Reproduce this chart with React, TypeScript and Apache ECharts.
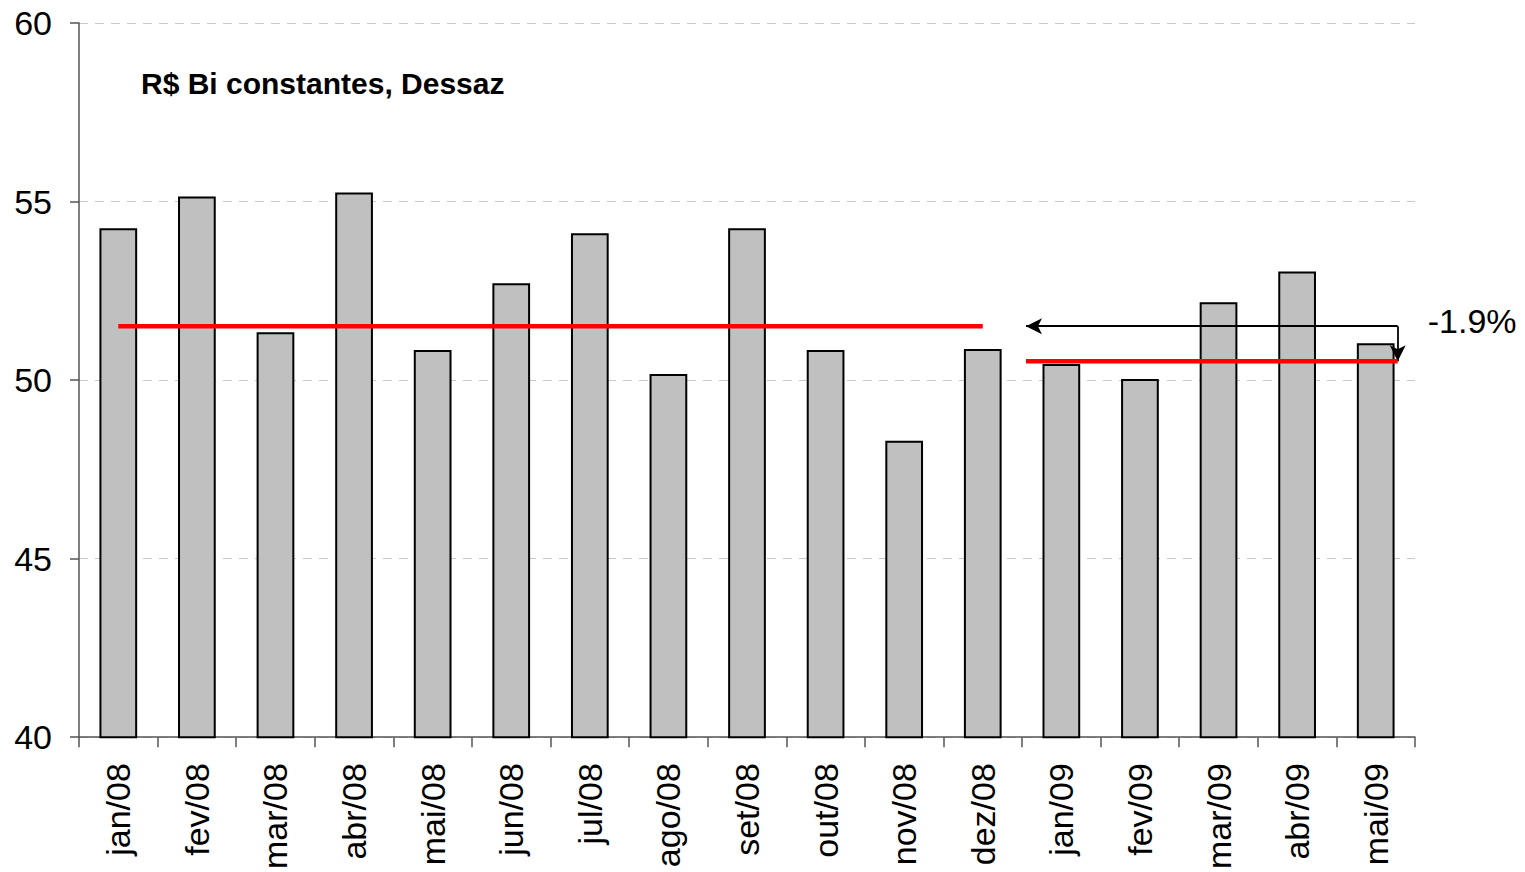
import React, { useEffect, useRef } from "react";
import * as echarts from "echarts";

const categories = [
  "jan/08", "fev/08", "mar/08", "abr/08", "mai/08", "jun/08", "jul/08", "ago/08",
  "set/08", "out/08", "nov/08", "dez/08", "jan/09", "fev/09", "mar/09", "abr/09", "mai/09",
];
const values = [
  54.25, 55.14, 51.34, 55.25, 50.84, 52.71, 54.11, 50.17,
  54.25, 50.84, 48.3, 50.87, 50.45, 50.03, 52.18, 53.04, 51.03,
];
const level2008 = 51.51;
const level2009 = 50.53;
const range2008 = [0, 11];
const range2009 = [11.55, 16.28];
const changeLabel = "-1.9%";
const titleText = "R$ Bi constantes, Dessaz";
const yTicks = { min: 40, max: 60, interval: 5 };

export default function App() {
  const ref = useRef<HTMLDivElement>(null);
  useEffect(() => {
    if (!ref.current) return;
    const chart = echarts.init(ref.current, undefined, { renderer: "svg" });
    const font = "Arial, 'Liberation Sans', sans-serif";
    chart.setOption({
      animation: false,
      backgroundColor: "#ffffff",
      title: {
        text: titleText,
        left: 141,
        top: 68,
        padding: 0,
        textStyle: { fontFamily: font, fontSize: 30, fontWeight: "bold", color: "#000" },
      },
      grid: { left: 79, top: 23, right: 110, bottom: 133, containLabel: false },
      xAxis: [
        {
          type: "category",
          data: categories,
          axisLine: { onZero: false, lineStyle: { color: "#555", width: 1.5 } },
          axisTick: { show: true, length: 10, alignWithLabel: false, lineStyle: { color: "#555", width: 1.5 } },
          axisLabel: { rotate: 90, fontFamily: font, fontSize: 34, color: "#000", margin: 26, interval: 0 },
          splitLine: { show: false },
        },
        { type: "value", min: -0.5, max: 16.5, show: false },
      ],
      yAxis: {
        type: "value",
        min: yTicks.min,
        max: yTicks.max,
        interval: yTicks.interval,
        axisLine: { show: true, onZero: false, lineStyle: { color: "#555", width: 1.5 } },
        axisTick: { show: true, length: 9, lineStyle: { color: "#555", width: 1.5 } },
        axisLabel: { fontFamily: font, fontSize: 34, color: "#000", margin: 27 },
        splitLine: { show: true, lineStyle: { color: "#c8c8c8", type: [9, 7], width: 1.2 } },
      },
      series: [
        {
          type: "bar",
          data: values,
          barWidth: "48%",
          itemStyle: { color: "#c0c0c0", borderColor: "#000", borderWidth: 2 },
        },
        {
          type: "line",
          xAxisIndex: 1,
          data: [[range2008[0], level2008], [range2008[1], level2008]],
          symbol: "none",
          lineStyle: { color: "#ff0000", width: 4.5 },
          z: 5,
        },
        {
          type: "line",
          xAxisIndex: 1,
          data: [[range2009[0], level2009], [range2009[1], level2009]],
          symbol: "none",
          lineStyle: { color: "#ff0000", width: 4.5 },
          z: 5,
          markLine: {
            silent: true,
            symbol: ["none", "arrow"],
            symbolSize: [12, 16],
            lineStyle: { color: "#000", width: 1.8, type: "solid" },
            label: { show: false },
            data: [
              [
                {
                  coord: [range2009[1], level2008],
                  label: {
                    show: true,
                    position: "start",
                    formatter: changeLabel,
                    fontFamily: font,
                    fontSize: 34,
                    color: "#000",
                    distance: 30,
                    offset: [0, -5],
                  },
                },
                { coord: [range2009[0], level2008] },
              ],
              [
                { coord: [range2009[1], level2008] },
                { coord: [range2009[1], level2009] },
              ],
            ],
          },
        },
      ],
    });
    return () => chart.dispose();
  }, []);
  return (
    <div
      ref={ref}
      style={{ position: "absolute", left: 0, top: 0, width: 1525, height: 872 }}
    />
  );
}
